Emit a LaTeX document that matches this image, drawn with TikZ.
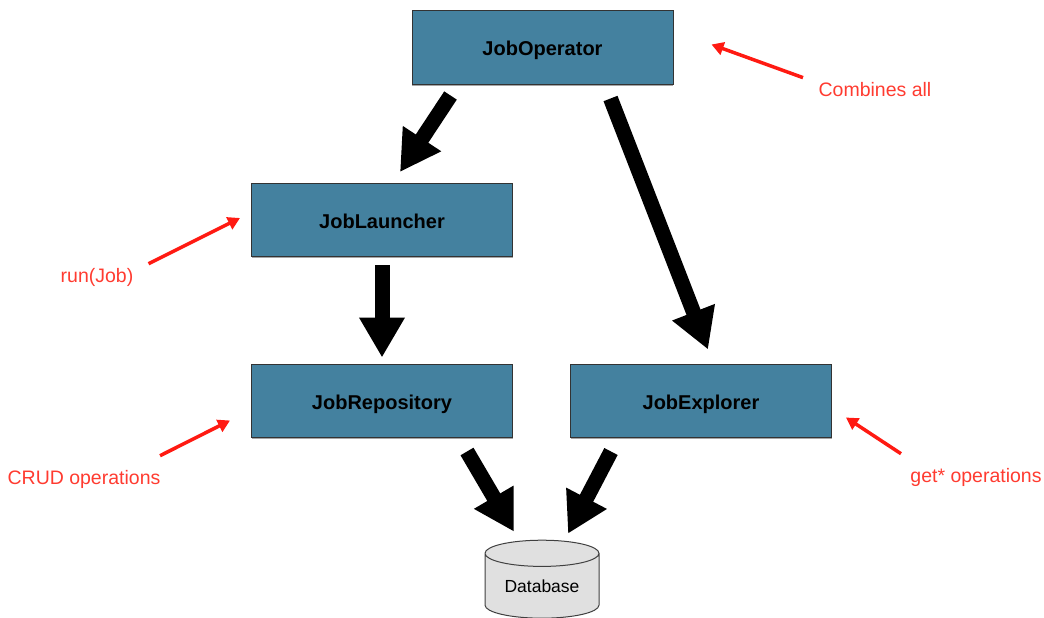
\documentclass[tikz,border=0pt]{standalone}
\usepackage{fontspec}
\setmainfont{Liberation Sans}
\usetikzlibrary{arrows.meta,shapes.geometric,shadows}
\definecolor{jobblue}{HTML}{44819F}
\definecolor{noteRed}{HTML}{FF3B30}
\definecolor{noteArrow}{HTML}{FF1A12}
\tikzset{%
  jobbox/.style={
    draw=black!80, line width=1pt, fill=jobblue,
    minimum width=261pt, minimum height=73pt, inner sep=0pt,
    text height=21pt, text depth=4pt,
    font=\fontsize{20}{24}\selectfont\bfseries,
    drop shadow={shadow xshift=0pt, shadow yshift=-1.5pt, fill=black!35, opacity=1}
  },
  jobarrow/.style={
    line width=15pt, -{Triangle[length=40pt,width=43pt]}
  },
  notelabel/.style={
    text=noteRed, inner sep=0pt, font=\fontsize{19.5}{24}\selectfont
  },
  notearrow/.style={
    draw=noteArrow, line width=3.5pt, -{Triangle[length=12pt,width=13pt]}
  }
}

\begin{document}
\begin{tikzpicture}[x=1pt, y=-1pt]
		\useasboundingbox (0, 0) rectangle (1044, 618);
		\node [jobbox] (oper)     at (542.5,  47.5) {JobOperator};
		\node [jobbox] (launcher) at (382,   220)   {JobLauncher};
		\node [jobbox] (repo)     at (382,   400.5) {JobRepository};
		\node [jobbox] (explorer) at (701,   400.5) {JobExplorer};
		\node [draw=black!75, line width=1pt, fill=black!12, shape=cylinder,
		  shape border rotate=90, aspect=0.35, minimum width=114pt, minimum height=78pt,
		  inner sep=0pt, font=\fontsize{17.5}{21}\selectfont] (db) at (542, 586) {Database};

		\node [notelabel] (combines) at (875,  90) {Combines all};
		\node [notelabel] (runjob)   at (97,  277) {run(Job)};
		\node [notelabel] (crud)     at (84,  479) {CRUD operations};
		\node [notelabel] (getops)   at (976, 477) {get* operations};

		\draw [jobarrow] ([shift={(-92, 11)}]oper.south) -- ([shift={(18, -11)}]launcher.north);
		\draw [jobarrow] ([shift={( 68, 14)}]oper.south) -- ([shift={(7, -14)}]explorer.north);
		\draw [jobarrow] ([shift={(0, 8)}]launcher.south) -- ([shift={(0, -6)}]repo.north);
		\draw [jobarrow] ([shift={(85, 14)}]repo.south) -- ([shift={(-28, -8)}]db.north);
		\draw [jobarrow] ([shift={(-90, 14)}]explorer.south) -- ([shift={(26, -6)}]db.north);

		\draw [notearrow] ([shift={(-72, -5)}]combines.north) -- ([shift={(38, -3)}]oper.east);
		\draw [notearrow] ([shift={(15, -4)}]runjob.north east) -- ([shift={(-11, -2)}]launcher.west);
		\draw [notearrow] ([shift={(76, -14)}]crud.north) -- ([shift={(-21, 20)}]repo.west);
		\draw [notearrow] ([shift={(-75, -14)}]getops.north) -- ([shift={(14, 17)}]explorer.east);
	\end{tikzpicture}
\end{document}
